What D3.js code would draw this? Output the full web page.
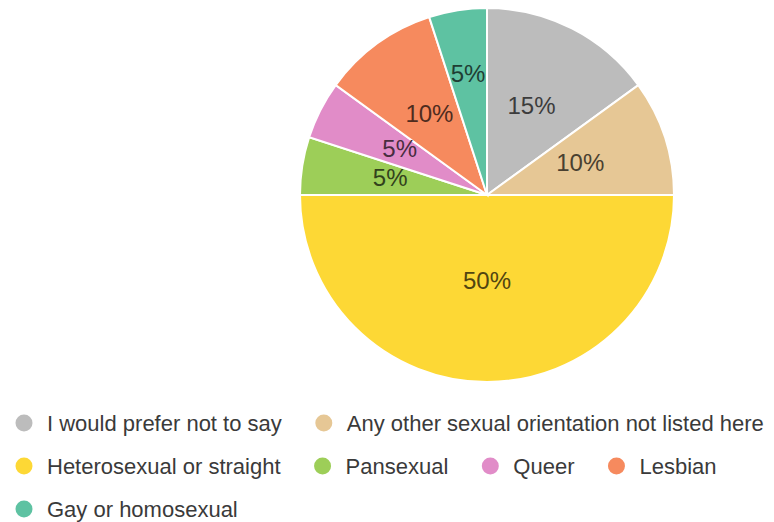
<!DOCTYPE html>
<html>
<head>
<meta charset="utf-8">
<script src="https://cdn.jsdelivr.net/npm/d3@7"></script>
<style>
  html, body { margin: 0; padding: 0; background: #fff; }
  svg { display: block; font-family: "Liberation Sans", Arial, sans-serif; }
</style>
</head>
<body>
<svg id="chart" width="774" height="522"></svg>
<script>
// Survey responses: sexual orientation (percent of respondents)
const categories = [
  "I would prefer not to say",
  "Any other sexual orientation not listed here",
  "Heterosexual or straight",
  "Pansexual",
  "Queer",
  "Lesbian",
  "Gay or homosexual"
];
const values = [15, 10, 50, 5, 5, 10, 5];
const colors = ["#bcbcbc", "#e6c795", "#fdd835", "#9dce58", "#e18cc8", "#f68a5e", "#5ec2a2"];

const svg = d3.select("#chart");
const W = 774, H = 522;
const cx = 487, cy = 195, R = 187;

const data = categories.map((c, i) => ({ name: c, value: values[i], color: colors[i] }));

const pie = d3.pie().value(d => d.value).sort(null);
const arcs = pie(data);
const arc = d3.arc().innerRadius(0).outerRadius(R);

const g = svg.append("g").attr("transform", `translate(${cx},${cy})`);

g.selectAll("path.slice")
  .data(arcs)
  .join("path")
  .attr("class", "slice")
  .attr("d", arc)
  .attr("fill", d => d.data.color)
  .attr("stroke", "#fff")
  .attr("stroke-width", 2);

// Percentage labels; the thin slice at the top is nudged outward so it clears its neighbours
const total = d3.sum(values);
g.selectAll("text.pct")
  .data(arcs)
  .join("text")
  .attr("class", "pct")
  .attr("transform", (d, i) => {
    const mid = (d.startAngle + d.endAngle) / 2;
    let r = 98;
    if (d.data.value >= 40) r = 87;
    if (i === arcs.length - 1) r = 121;
    return `translate(${Math.sin(mid) * r},${-Math.cos(mid) * r})`;
  })
  .attr("text-anchor", "middle")
  .attr("dy", "0.28em")
  .attr("font-size", 24)
  .attr("fill", d => d3.color(d.data.color).darker(3.2))
  .text(d => Math.round(d.data.value / total * 100) + "%");

// Legend: items flow left to right and wrap onto new rows
const legend = svg.append("g").attr("class", "legend");
const legendX0 = 24, legendY0 = 423, rowH = 43, maxX = W;
let x = legendX0, y = legendY0;
data.forEach(d => {
  const item = legend.append("g");
  item.append("circle").attr("r", 8.5).attr("fill", d.color);
  const t = item.append("text")
    .attr("x", 23)
    .attr("dy", "0.35em")
    .attr("font-size", 22)
    .attr("fill", "#3a3a3a")
    .text(d.name);
  const w = 23 + t.node().getComputedTextLength();
  if (x > legendX0 && x + w > maxX) { x = legendX0; y += rowH; }
  item.attr("transform", `translate(${x},${y})`);
  x += w + 42;
});
</script>
</body>
</html>
